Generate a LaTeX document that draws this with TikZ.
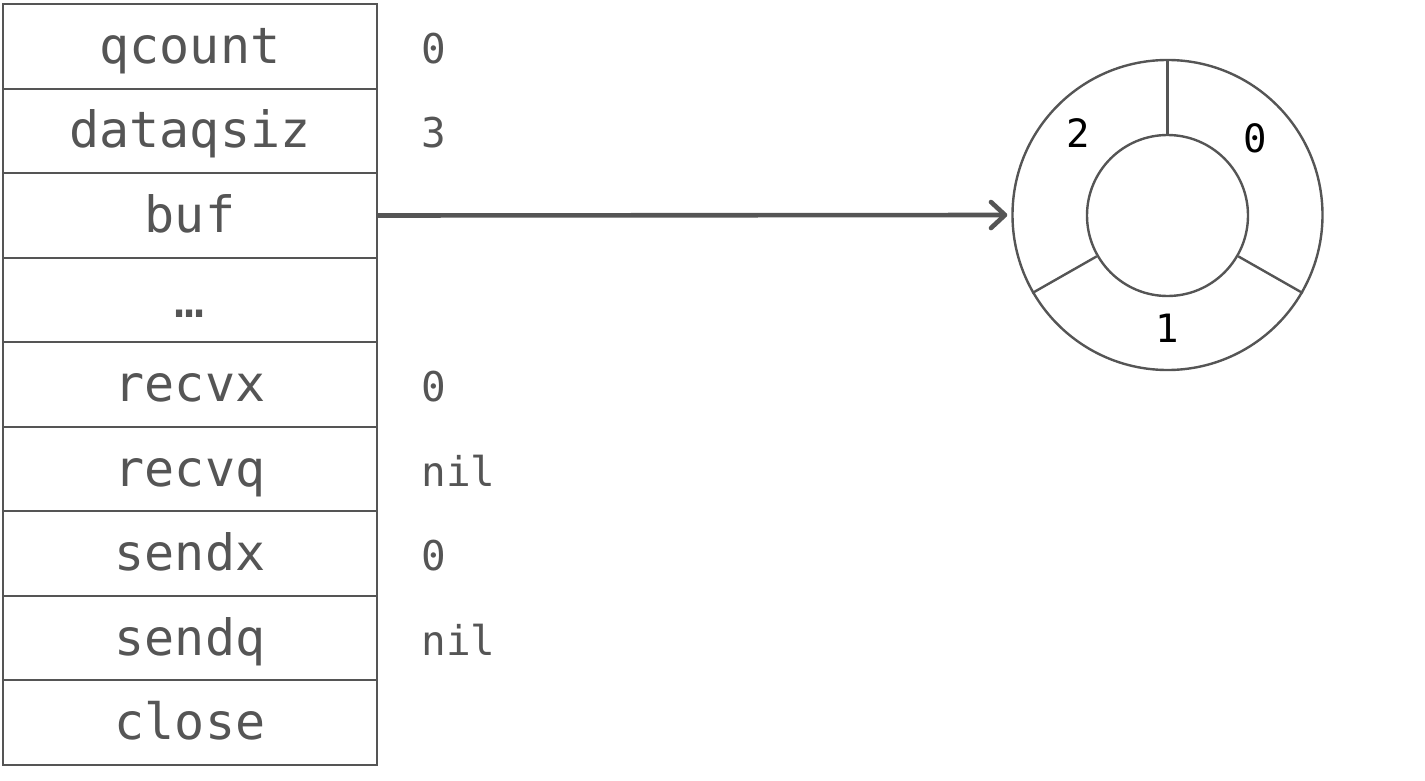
\documentclass[tikz,border=0pt]{standalone}
\usepackage{fontspec}
\setmonofont{DejaVu Sans Mono}
\usetikzlibrary{positioning,arrows.meta}
\definecolor{inkgray}{HTML}{555555}
\begin{document}
\begin{tikzpicture}[x=0.5pt, y=-0.5pt,
    field/.style={draw=inkgray, line width=1pt, minimum width=187pt, minimum height=42.25pt,
      outer sep=0pt, inner sep=0pt, text=inkgray, font=\ttfamily\fontsize{25}{25}\selectfont,
      text height=20pt, text depth=3pt},
    val/.style={anchor=base west, inner sep=0pt, text=inkgray,
      font=\ttfamily\fontsize{20.5}{20.5}\selectfont},
    ring/.style={circle, draw=inkgray, line width=1.2pt, inner sep=0pt},
    slot/.style={inner sep=0pt, font=\ttfamily\fontsize{19.5}{19.5}\selectfont},
    ptr/.style={draw=inkgray, line width=2.3pt, -{Straight Barb[round, length=7pt, width=13pt]}}
    ]
    \useasboundingbox (0,0) rectangle (1425,781);
    % hchan fields
    \node[field] (f1) at (190,46.5) {qcount};
    \foreach \name [count=\i from 2, remember=\i as \j (initially 1)] in
        {dataqsiz, buf, \dots, recvx, recvq, sendx, sendq, close}
      \node[field, below=0pt of f\j] (f\i) {\name};
    % values
    \coordinate (vx) at (421,0);
    \foreach \i/\v in {1/0, 2/3, 5/0, 6/nil, 7/0, 8/nil}
      \node[val] (v\i) at (f\i.base -| vx) {\v};
    % ring buffer
    \node[ring, minimum size=155pt] (outer) at (1167.5,215) {};
    \node[ring, minimum size=80.5pt] (inner) at (1167.5,215.5) {};
    \foreach \a in {90, -30, 210}
      \draw[inkgray, line width=1.2pt] (inner.\a) -- (outer.\a);
    \node[slot] (s2) at (1078,133) {2};
    \node[slot] (s0) at (1255,138) {0};
    \node[slot] (s1) at (1167,328) {1};
    \draw[ptr, shorten >=2pt] (f3.east) -- (outer.west);
\end{tikzpicture}
\end{document}
